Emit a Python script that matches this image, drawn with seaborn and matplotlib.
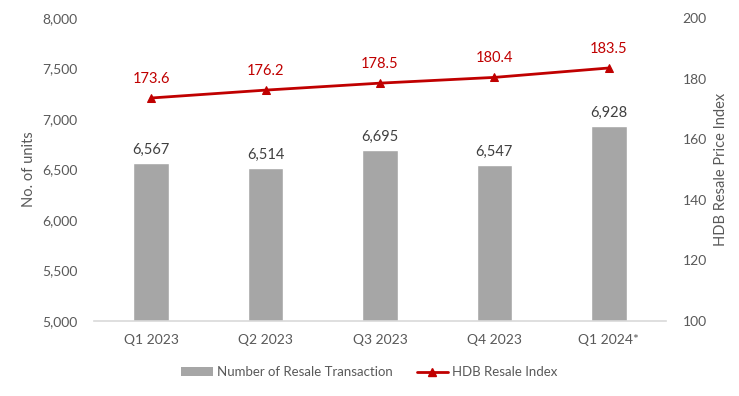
import matplotlib
matplotlib.use("Agg")
import matplotlib.pyplot as plt
import seaborn as sns
import pandas as pd
from matplotlib.patches import Patch
from matplotlib.lines import Line2D

quarters = ["Q1 2023", "Q2 2023", "Q3 2023", "Q4 2023", "Q1 2024*"]
transactions = [6567, 6514, 6695, 6547, 6928]
price_index = [173.6, 176.2, 178.5, 180.4, 183.5]

sns.set_theme(style="white")
plt.rcParams['font.family'] = ['Lato', 'DejaVu Sans']
TXT = "#595959"
BAR = "#A6A6A6"
RED = "#C00000"

df = pd.DataFrame({"quarter": quarters, "tx": transactions, "idx": price_index})

fig = plt.figure(figsize=(7.39, 3.96), dpi=100)
ax = fig.add_axes([94/739, (396-321)/396, (666-94)/739, (321-18)/396])
sns.barplot(data=df, x="quarter", y="tx", color=BAR, width=0.31, ax=ax, saturation=1)
ax.set_ylim(5000, 8000)
ax.set_yticks(range(5000, 8001, 500))
ax.set_yticklabels([f"{v:,}" for v in range(5000, 8001, 500)])
ax.set_xlim(-0.5, 4.5)
ax.set_xlabel("")
ax.set_ylabel("No. of units", color=TXT, fontsize=10.5, labelpad=4)
for s in ["top", "right", "left"]:
    ax.spines[s].set_visible(False)
ax.spines["bottom"].set_color("#D9D9D9")
ax.spines["bottom"].set_linewidth(1.2)
ax.tick_params(axis="both", length=0, colors=TXT, labelsize=10)
ax.tick_params(axis="y", pad=12)
ax.tick_params(axis="x", pad=9)
for i, v in enumerate(transactions):
    ax.text(i, v + 60, f"{v:,}", ha="center", va="bottom", color="#404040", fontsize=10.5)

ax2 = ax.twinx()
sns.lineplot(data=df, x="quarter", y="idx", color=RED, marker="^", markersize=6,
             markeredgecolor=RED, linewidth=2, ax=ax2, sort=False)
ax2.set_ylim(100, 200)
ax2.set_yticks(range(100, 201, 20))
ax2.set_xlim(-0.5, 4.5)
ax2.set_ylabel("HDB Resale Price Index", color=TXT, fontsize=10.5, labelpad=5)
ax2.set_xlabel("")
for s in ax2.spines.values():
    s.set_visible(False)
ax2.tick_params(axis="y", length=0, colors=TXT, labelsize=10, pad=12)
for i, v in enumerate(price_index):
    ax2.text(i, v + 4, f"{v:.1f}", ha="center", va="bottom", color=RED, fontsize=10.5)

handles = [Patch(facecolor=BAR, edgecolor="none"),
           Line2D([0], [0], color=RED, lw=2, marker="^", markersize=6)]
fig.legend(handles, ["Number of Resale Transaction", "HDB Resale Index"],
           loc="center", bbox_to_anchor=(0.5, (396-372)/396), ncol=2, frameon=False,
           fontsize=9.5, labelcolor=TXT, handlelength=2.4, handleheight=0.6,
           columnspacing=1.8, handletextpad=0.3)

fig.savefig("out.png", dpi=100)
